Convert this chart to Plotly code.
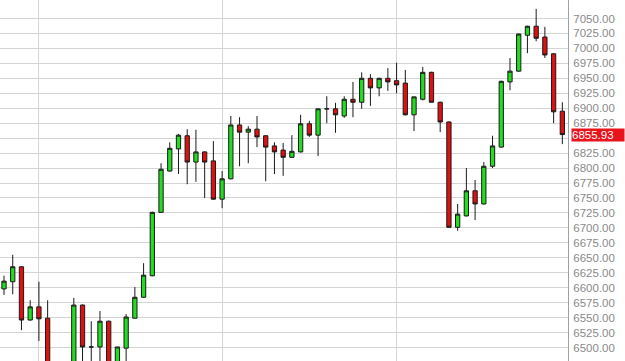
import plotly.graph_objects as go

# trading-day index (two days at 6,7 lie below the visible price range)
day = list(range(65))

open_ = [6598, 6610, 6635, 6546, 6568, 6549, 6462, 6430, 6460, 6571,
         6501, 6501, 6544, 6465, 6499, 6549, 6584, 6620, 6726, 6795,
         6832, 6854, 6810, 6827, 6812, 6748, 6782, 6872, 6860, 6865,
         6854, 6837, 6830, 6818, 6827, 6874, 6855, 6899, 6899, 6887,
         6915, 6910, 6950, 6934, 6950, 6946, 6942, 6889, 6915, 6960,
         6910, 6877, 6701, 6720, 6762, 6740, 6803, 6835, 6944, 6962,
         7022, 7037, 7019, 6991, 6895]
high = [6620, 6655, 6636, 6579, 6610, 6579, 6470, 6465, 6583, 6572,
        6544, 6561, 6545, 6501, 6556, 6601, 6641, 6727, 6808, 6843,
        6857, 6865, 6864, 6828, 6845, 6795, 6887, 6885, 6870, 6887,
        6855, 6843, 6842, 6855, 6889, 6879, 6899, 6920, 6909, 6920,
        6944, 6960, 6957, 6951, 6967, 6976, 6964, 6919, 6969, 6961,
        6911, 6878, 6740, 6800, 6780, 6810, 6854, 6946, 6984, 7025,
        7038, 7066, 7036, 6992, 6910]
low = [6588, 6589, 6529, 6545, 6511, 6450, 6420, 6415, 6450, 6465,
       6470, 6470, 6455, 6455, 6470, 6549, 6583, 6619, 6725, 6794,
       6790, 6773, 6777, 6750, 6747, 6733, 6781, 6803, 6808, 6835,
       6778, 6790, 6787, 6817, 6826, 6852, 6820, 6875, 6859, 6884,
       6885, 6899, 6904, 6920, 6929, 6925, 6888, 6862, 6913, 6910,
       6860, 6700, 6695, 6719, 6713, 6739, 6800, 6834, 6930, 6961,
       6992, 7012, 6984, 6875, 6840]
close = [6611, 6635, 6546, 6568, 6548, 6462, 6430, 6460, 6571, 6501,
         6501, 6544, 6465, 6501, 6551, 6584, 6621, 6726, 6798, 6833,
         6855, 6810, 6827, 6810, 6748, 6782, 6872, 6860, 6865, 6852,
         6835, 6827, 6818, 6828, 6874, 6855, 6899, 6899, 6889, 6915,
         6910, 6950, 6934, 6950, 6944, 6939, 6889, 6919, 6960, 6910,
         6877, 6701, 6723, 6762, 6740, 6803, 6837, 6945, 6962, 7024,
         7037, 7017, 6989, 6894, 6855.93]

month_start_days = [4, 25, 45]

# price grid levels and their labels (6850.00 is hidden behind the last-price tag)
price_ticks = [6500, 6525, 6550, 6575, 6600, 6625, 6650, 6675, 6700, 6725,
               6750, 6775, 6800, 6825, 6850, 6875, 6900, 6925, 6950, 6975,
               7000, 7025, 7050]
price_labels = ["6500.00", "6525.00", "6550.00", "6575.00", "6600.00", "6625.00",
                "6650.00", "6675.00", "6700.00", "6725.00", "6750.00", "6775.00",
                "6800.00", "6825.00", "", "6875.00", "6900.00", "6925.00",
                "6950.00", "6975.00", "7000.00", "7025.00", "7050.00"]

last_price = close[-1]

fig = go.Figure()
fig.add_trace(go.Candlestick(
    x=day, open=open_, high=high, low=low, close=close,
    increasing=dict(line=dict(color="#1a1a1a", width=1), fillcolor="#22dd22"),
    decreasing=dict(line=dict(color="#1a1a1a", width=1), fillcolor="#e01010"),
    whiskerwidth=0,
    showlegend=False,
    hoverinfo="skip",
))

fig.add_annotation(
    x=1, xref="paper", y=last_price, yref="y",
    text=f"{last_price:.2f}", showarrow=False,
    xanchor="left", yanchor="middle", xshift=3,
    bgcolor="#e8141c", font=dict(color="white", size=11.5, family="Liberation Sans, Arial"),
    width=52, align="left", borderpad=0,
)

fig.update_layout(
    width=625, height=361,
    margin=dict(l=0, r=57, t=0, b=0),
    paper_bgcolor="white", plot_bgcolor="white",
    xaxis=dict(
        range=[-0.46, 64.65],
        tickvals=month_start_days, showticklabels=False,
        showgrid=True, gridcolor="#d4d4d4", gridwidth=1,
        zeroline=False, rangeslider=dict(visible=False),
        showline=True, linecolor="#b0b0b0", mirror=True,
    ),
    yaxis=dict(
        side="right", range=[6477.5, 7080.9],
        tickvals=price_ticks, ticktext=price_labels,
        showgrid=True, gridcolor="#d4d4d4", gridwidth=1,
        zeroline=False, showline=True, linecolor="#a0a0a0",
        ticks="", ticklabelstandoff=2,
        tickfont=dict(family="Liberation Sans, Arial", size=11.5, color="#8a8a8a"),
    ),
)

fig.write_html("out.html")
